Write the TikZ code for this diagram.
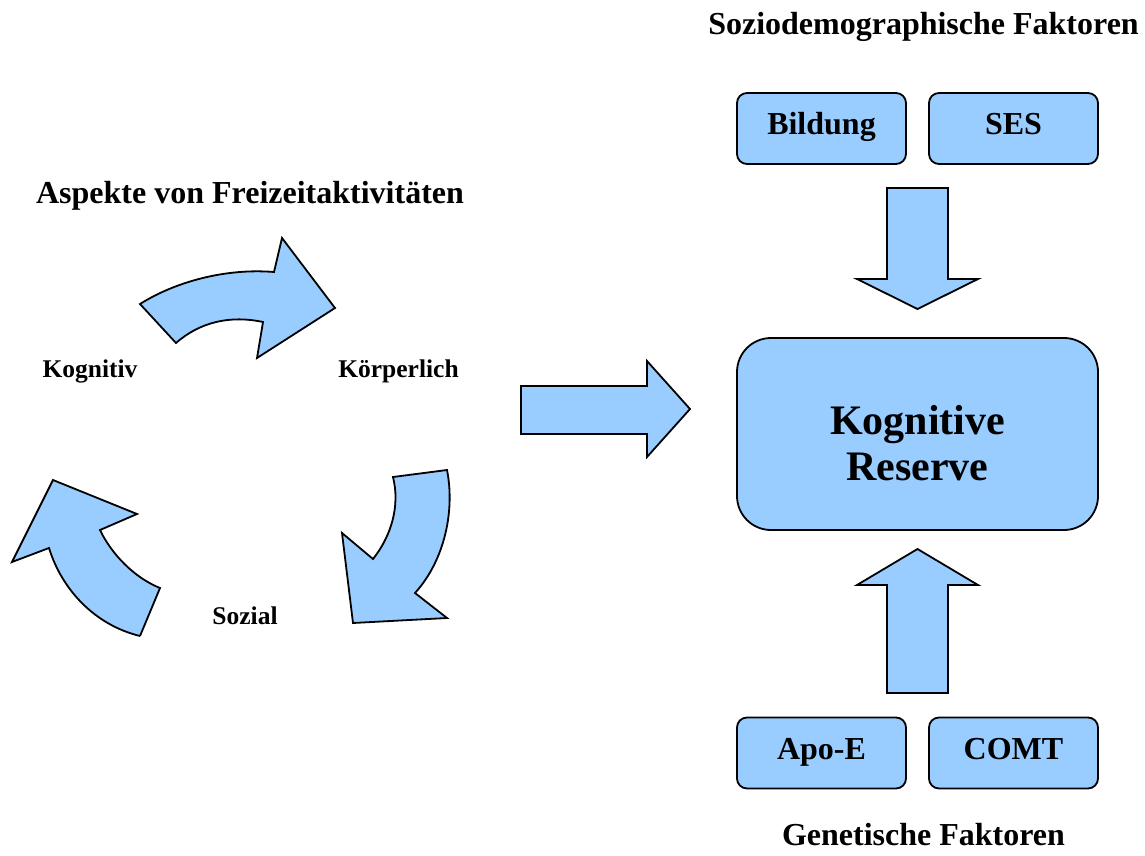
\documentclass[tikz,border=0pt]{standalone}
\usepackage{fontspec}
\setmainfont{Liberation Serif}
\begin{document}
\begin{tikzpicture}[x=1pt,y=-1pt,
  blk/.style={draw=black,line width=1.8pt,fill=arrowblue,line join=miter},
  sbox/.style={draw=black,line width=1.8pt,fill=arrowblue,rounded corners=10pt,minimum width=169pt,minimum height=71pt,inner sep=0pt,text height=22pt,text depth=9pt,font=\fontsize{32}{36}\selectfont\bfseries},
  bigbox/.style={draw=black,line width=1.8pt,fill=arrowblue,rounded corners=34pt,minimum width=361pt,minimum height=192pt,inner sep=0pt},
  bigtext/.style={inner sep=0pt,align=center,font=\fontsize{42}{46}\selectfont\bfseries},
  ttl/.style={anchor=base,inner sep=0pt,font=\fontsize{32}{36}\selectfont\bfseries},
  lbl/.style={anchor=base,inner sep=0pt,font=\fontsize{25.5}{28}\selectfont\bfseries}]
\definecolor{arrowblue}{HTML}{99CCFF}
\useasboundingbox (0,0) rectangle (1145,856);

% titles
\node[ttl] (t1) at (923.5,35) {Soziodemographische Faktoren};
\node[ttl] (t2) at (250,203) {Aspekte von Freizeitaktivitäten};
\node[ttl] (t3) at (923.5,845) {Genetische Faktoren};

% labels of the cycle
\node[lbl] (kog) at (90,377) {Kognitiv};
\node[lbl] (koe) at (398.5,377) {Körperlich};
\node[lbl] (soz) at (245,624) {Sozial};

% boxes
\node[sbox] (bil) at (821.5,128.5) {Bildung};
\node[sbox] (ses) at (1013.5,128.5) {SES};
\node[sbox] (apo) at (821.5,753) {Apo-E};
\node[sbox] (com) at (1013.5,753) {COMT};
\node[bigbox] (kr) at (917.5,434) {};
\node[bigtext] (krt) at ([yshift=-9pt]kr.center) {Kognitive\\Reserve};

% straight block arrows
\draw[blk] (887,188) -- (948,188) -- (948,279) -- (978,279) -- (917.5,309) -- (857,279) -- (887,279) -- cycle;
\draw[blk] (887,693) -- (948,693) -- (948,585) -- (978,585) -- (917.5,549) -- (857,585) -- (887,585) -- cycle;
\draw[blk] (521,386) -- (647,386) -- (647,361) -- (690,409) -- (647,457) -- (647,434) -- (521,434) -- cycle;

% curved block arrows
\draw[blk] (140,304) .. controls (175,282) and (225,268) .. (274,272)
  -- (282,238) -- (335,308) -- (257,358) -- (263,322)
  .. controls (230,315) and (200,322) .. (176,343) -- cycle;
\draw[blk] (447,470) .. controls (455,510) and (445,560) .. (415,593)
  -- (447,618) -- (353,623) -- (342,533) -- (373,559)
  .. controls (392,535) and (400,505) .. (393,477) -- cycle;
\draw[blk] (140,636) -- (160,588)
  .. controls (135,578) and (112,555) .. (100,530)
  -- (137,514) -- (53,480) -- (12,562) -- (49,548)
  .. controls (62,590) and (95,625) .. (140,636);
\end{tikzpicture}
\end{document}
